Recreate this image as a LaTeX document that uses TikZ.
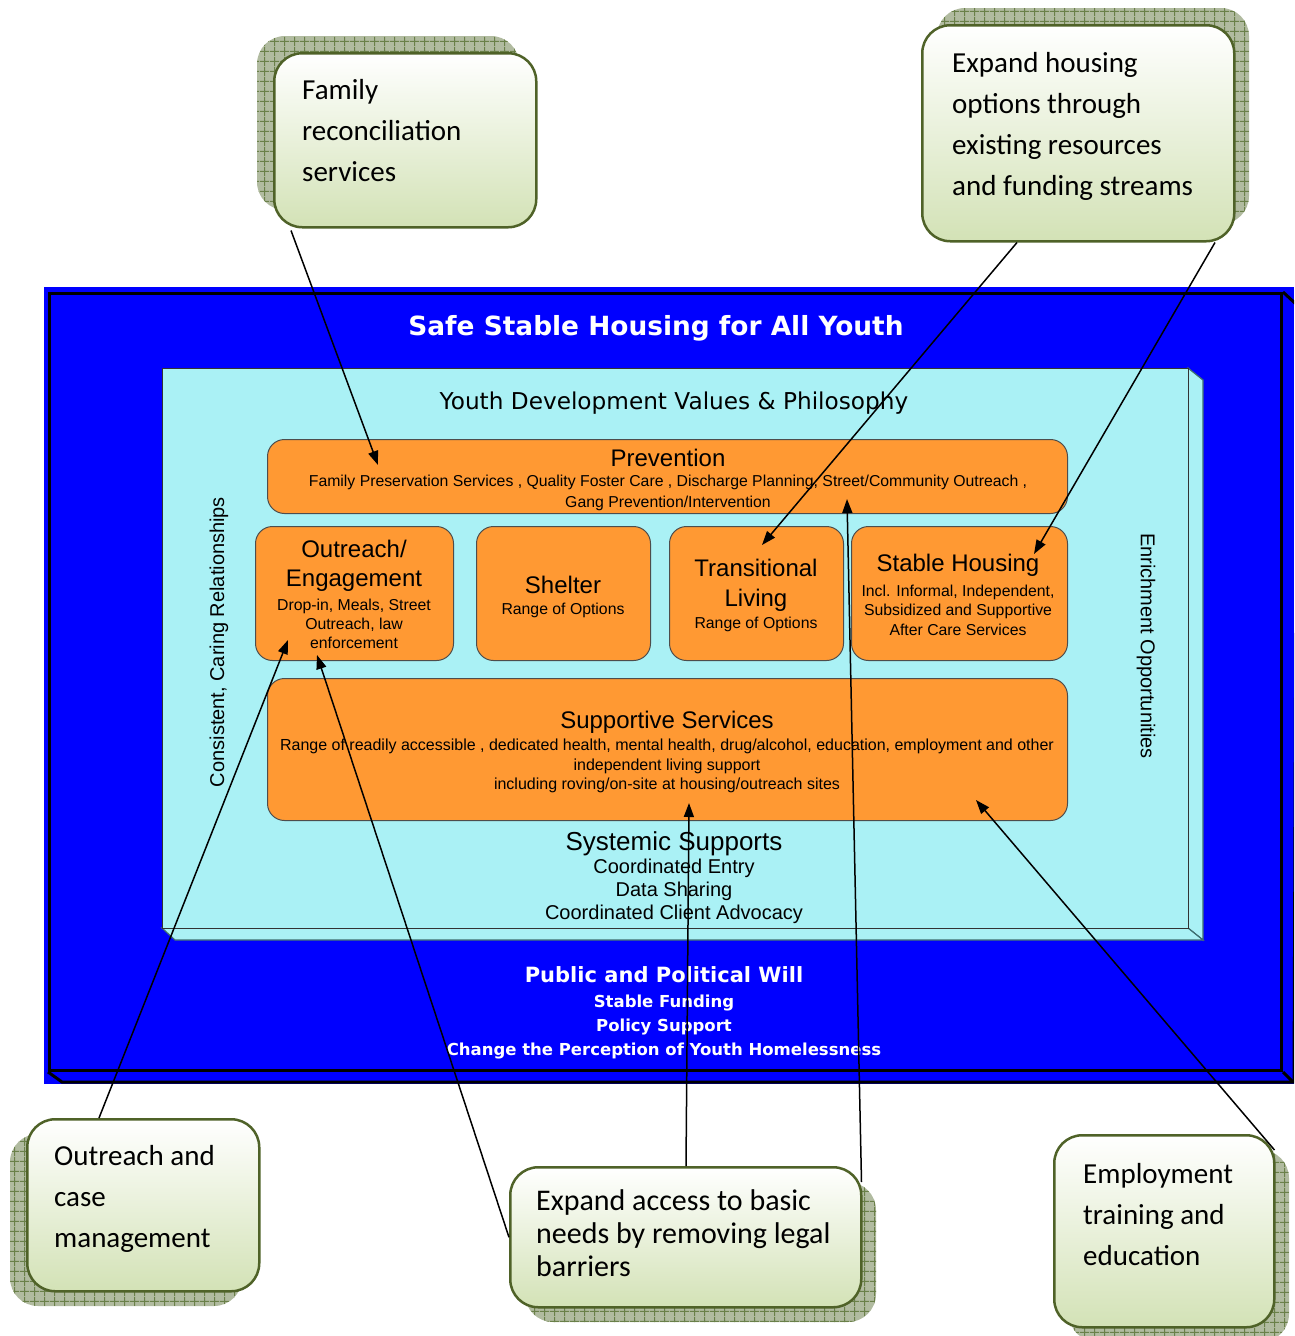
\documentclass[tikz,border=0pt]{standalone}
\usepackage{fontspec}
\setmainfont{Liberation Sans}
\newfontfamily\calfont{Carlito}
\newfontfamily\dvfont{DejaVu Sans}
\usetikzlibrary{arrows.meta,patterns.meta,calc}

\definecolor{pureblue}{HTML}{0000FF}
\definecolor{cyanfill}{HTML}{AAF1F5}
\definecolor{cyanedge}{HTML}{3E6E70}
\definecolor{orangefill}{HTML}{FF9933}
\definecolor{orangeedge}{HTML}{4D4D4D}
\definecolor{callgreen}{HTML}{D3E2B6}
\definecolor{calledge}{HTML}{4F6228}
\definecolor{shadowfill}{HTML}{B1BBA0}
\definecolor{shadowgrid}{HTML}{6A8049}

\tikzdeclarepattern{
  name=shadowgridpat,
  type=uncolored,
  bounding box={(0pt,0pt) and (10pt,10pt)},
  tile size={(10pt,10pt)},
  code={\draw[line width=1pt] (0pt,5pt)--(10pt,5pt) (5pt,0pt)--(5pt,10pt);}
}

\tikzset{
  obox/.style={draw=orangeedge, line width=1pt, fill=orangefill, rounded corners=17pt, anchor=north west, inner sep=0pt},
  callout/.style={draw=calledge, line width=2.5pt, rounded corners=28pt, top color=white, bottom color=callgreen, anchor=north west, inner sep=0pt},
  shadowbox/.style={fill=shadowfill, rounded corners=28pt, postaction={pattern={shadowgridpat}, pattern color=shadowgrid}},
  calltext/.style={font=\calfont\fontsize{29}{41}\selectfont, align=left, anchor=west, inner sep=0pt},
  btitle/.style={font=\fontsize{24}{30}\selectfont, align=center, inner sep=0pt},
  bbody/.style={font=\fontsize{15.8}{19.5}\selectfont, align=center, inner sep=0pt},
  whitebold/.style={font=\dvfont\bfseries\fontsize{16.5}{24}\selectfont, text=white, align=center, inner sep=0pt},
  arr/.style={draw=black, line width=1.5pt, -{Triangle[length=14pt,width=10pt]}}
}

\begin{document}
\begin{tikzpicture}[x=1pt,y=-1pt]
\path[use as bounding box] (0,0) rectangle (1294,1336);
\clip (0,0) rectangle (1294,1336);

% ---------- outer blue box ----------
\fill[pureblue] (44,287) rectangle (1294,1084);
\node[draw=black, line width=3pt, fill=pureblue, anchor=north west, inner sep=0pt,
      minimum width=1232pt, minimum height=777pt] (outer) at (48,292) {};
\draw[black, line width=3pt, line join=miter] (outer.north east) -- ++(14,13) -- (1294,1082) -- (62,1082) -- (outer.south west);
\draw[black, line width=3pt] (outer.south east) -- (1293,1082);

% ---------- inner cyan box ----------
\filldraw[fill=cyanfill, draw=cyanedge, line width=1.2pt] (1188,368) -- (1203,380) -- (1203,940) -- (1188,928) -- cycle;
\filldraw[fill=cyanfill, draw=cyanedge, line width=1.2pt] (162,928) -- (1188,928) -- (1203,940) -- (175,940) -- cycle;
\node[draw=black!80, line width=1pt, fill=cyanfill, anchor=north west, inner sep=0pt,
      minimum width=1026pt, minimum height=560pt] (inner) at (162,368) {};

% ---------- titles ----------
\node[font=\dvfont\bfseries\fontsize{26.4}{30}\selectfont, text=white, inner sep=0pt] (ttl) at (656,328) {Safe Stable Housing for All Youth};
\node[font=\dvfont\fontsize{23.2}{28}\selectfont, inner sep=0pt] (ydv) at (674,403) {Youth Development Values \& Philosophy};
\node[font=\fontsize{20}{24}\selectfont, rotate=90, inner sep=0pt] (crel) at (219,642) {Consistent, Caring Relationships};
\node[font=\fontsize{20}{24}\selectfont, rotate=-90, inner sep=0pt] (enr) at (1146,646) {Enrichment Opportunities};

% ---------- orange boxes ----------
\node[obox, minimum width=800pt, minimum height=74pt] (prev) at (267,439) {};
\node[obox, minimum width=198pt, minimum height=134pt] (outr) at (255,526) {};
\node[obox, minimum width=174pt, minimum height=134pt] (shel) at (476,526) {};
\node[obox, minimum width=174pt, minimum height=134pt] (tran) at (669,526) {};
\node[obox, minimum width=216pt, minimum height=134pt] (stab) at (851,526) {};
\node[obox, minimum width=800pt, minimum height=142pt] (supp) at (267,678) {};

\node[btitle] (prevt) at (668,458) {Prevention};
\node[bbody, font=\fontsize{15.8}{21}\selectfont] (prevb) at (668,493) {Family Preservation Services , Quality Foster Care , Discharge Planning, Street/Community Outreach ,\\Gang Prevention/Intervention};

\node[btitle, font=\fontsize{24}{29}\selectfont] (outrt) at (354,566) {Outreach/\\Engagement};
\node[bbody, font=\fontsize{15.8}{19}\selectfont] (outrb) at (354,624) {Drop-in, Meals, Street\\Outreach, law\\enforcement};

\node[btitle] (shelt) at (563,585) {Shelter};
\node[bbody] (shelb) at (563,610) {Range of Options};

\node[btitle] (trant) at (756,585) {Transitional\\Living};
\node[bbody] (tranb) at (756,624) {Range of Options};

\node[btitle] (stabt) at (958,565) {Stable Housing};
\node[bbody] (stabb) at (958,610) {Incl. Informal, Independent,\\Subsidized and Supportive\\After Care Services};

\node[btitle] (suppt) at (667,722) {Supportive Services};
\node[bbody, font=\fontsize{16}{19.5}\selectfont] (suppb) at (667,766) {Range of readily accessible , dedicated health, mental health, drug/alcohol, education, employment and other\\independent living support\\including roving/on-site at housing/outreach sites};

% ---------- systemic supports ----------
\node[font=\fontsize{26}{30}\selectfont, inner sep=0pt] (syst) at (674,844) {Systemic Supports};
\node[font=\fontsize{20}{23}\selectfont, align=center, inner sep=0pt] (sysb) at (674,891) {Coordinated Entry\\Data Sharing\\Coordinated Client Advocacy};

% ---------- public and political will ----------
\node[font=\dvfont\bfseries\fontsize{21}{26}\selectfont, text=white, inner sep=0pt] (pubt) at (664,975) {Public and Political Will};
\node[whitebold] (pubb) at (664,1027) {Stable Funding\\Policy Support\\Change the Perception of Youth Homelessness};

% ---------- callouts ----------
\path[shadowbox] (257,36) rectangle (519,210);
\node[callout, minimum width=262pt, minimum height=174pt] (famc) at (273,52) {};
\node[calltext] (famt) at (302,131) {Family\\reconciliation\\services};

\path[shadowbox] (937,8) rectangle (1249,224);
\node[callout, minimum width=312pt, minimum height=216pt] (exhc) at (921,24) {};
\node[calltext] (exht) at (952,126.5) {Expand housing\\options through\\existing resources\\and funding streams};

\path[shadowbox] (10,1134) rectangle (242,1306);
\node[callout, minimum width=232pt, minimum height=172pt] (outc) at (26,1118) {};
\node[calltext] (outt) at (54,1198.5) {Outreach and\\case\\management};

\path[shadowbox] (525,1182) rectangle (876,1322);
\node[callout, minimum width=351pt, minimum height=140pt] (accc) at (509,1166) {};
\node[calltext, font=\calfont\fontsize{30}{33}\selectfont] (acct) at (536,1233) {Expand access to basic\\needs by removing legal\\barriers};

\path[shadowbox] (1069,1150) rectangle (1289,1342);
\node[callout, minimum width=220pt, minimum height=192pt] (empc) at (1053,1134) {};
\node[calltext] (empt) at (1083,1215) {Employment\\training and\\education};

% ---------- arrows ----------
\coordinate (e1) at (378,465);
\coordinate (e2) at (762,545);
\coordinate (e3) at (1034,554);
\coordinate (e4) at (288,640);
\coordinate (e5) at (317,655);
\coordinate (e6) at (689,803);
\coordinate (e7) at (847,499);
\coordinate (e8) at (976,800);

\draw[arr] ($(famc.south west)+(18,2)$) -- (e1);
\draw[arr] ($(exhc.south west)+(96,0)$) -- (e2);
\draw[arr] ($(exhc.south west)+(294,0)$) -- (e3);
\draw[arr] ($(outc.north west)+(73,0)$) -- (e4);
\draw[arr] (accc.west) -- (e5);
\draw[arr] ($(accc.north west)+(177,0)$) -- (e6);
\draw[arr] ($(accc.north east)+(-1,16)$) -- (e7);
\draw[arr] ($(empc.north east)+(-1,16)$) -- (e8);
\end{tikzpicture}
\end{document}
